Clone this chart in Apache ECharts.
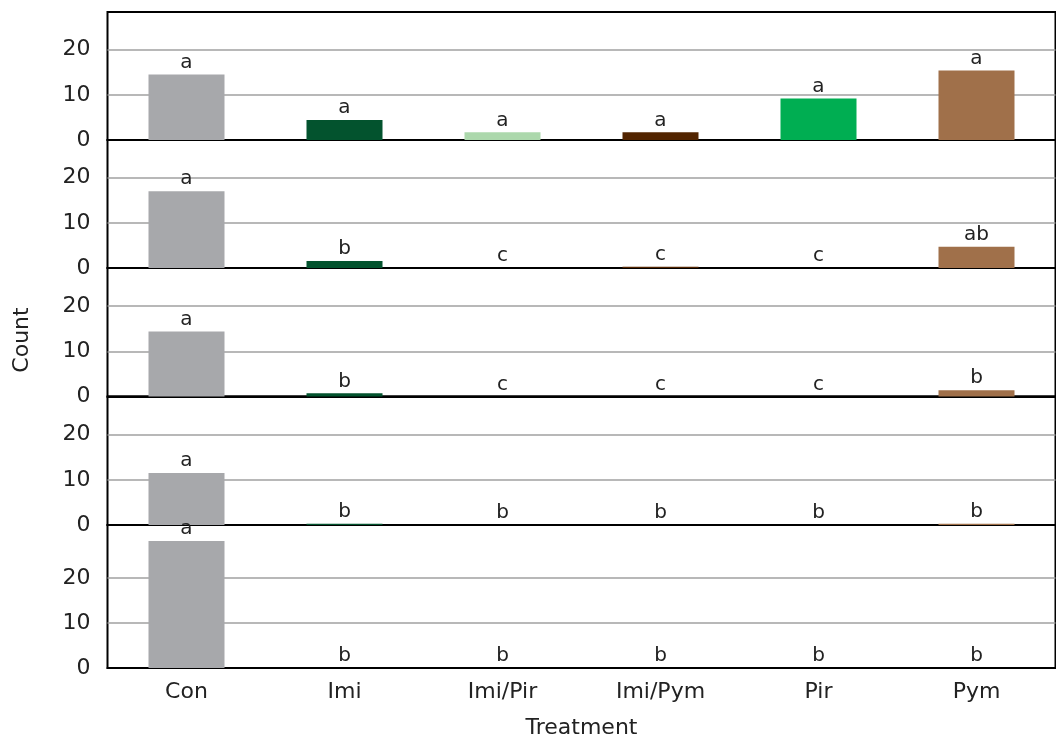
<!DOCTYPE html>
<html>
<head>
<meta charset="utf-8">
<script src="https://cdn.jsdelivr.net/npm/echarts@6/dist/echarts.min.js"></script>
<style>html,body{margin:0;padding:0;background:#fff}#c{width:1056px;height:740px}</style>
</head>
<body>
<div id="c"></div>
<script>
const categories = ['Con', 'Imi', 'Imi/Pir', 'Imi/Pym', 'Pir', 'Pym'];
const barColors = ['#a7a8ab', '#03532e', '#acd8ac', '#522400', '#00ae52', '#a0704a'];

const panel1 = [14.5, 4.4, 1.7, 1.7, 9.2, 15.4];
const panel2 = [17.0, 1.55, 0, 0.3, 0, 4.7];
const panel3 = [14.4, 0.7, 0, 0, 0, 1.4];
const panel4 = [11.5, 0.3, 0, 0, 0, 0.3];
const panel5 = [28.3, 0, 0, 0, 0, 0];

const letters1 = ['a', 'a', 'a', 'a', 'a', 'a'];
const letters2 = ['a', 'b', 'c', 'c', 'c', 'ab'];
const letters3 = ['a', 'b', 'c', 'c', 'c', 'b'];
const letters4 = ['a', 'b', 'b', 'b', 'b', 'b'];
const letters5 = ['a', 'b', 'b', 'b', 'b', 'b'];

const yTicks = [0, 10, 20];
const yAxisTitle = 'Count';
const xAxisTitle = 'Treatment';

const panels = [panel1, panel2, panel3, panel4, panel5];
const letters = [letters1, letters2, letters3, letters4, letters5];

const FONT = 'DejaVu Sans';
const left = 107.5, width = 948;
const tops = [12, 140, 268, 396.5, 525];
const heights = [128, 128, 128.5, 128.5, 144];
const pxPerUnit = 4.52;

const grids = [], xAxes = [], yAxes = [], series = [];
panels.forEach((vals, i) => {
  const last = i === panels.length - 1;
  grids.push({ left: left, top: tops[i], width: width, height: heights[i], show: true, borderColor: '#000', borderWidth: 2, containLabel: false });
  xAxes.push({
    type: 'category', gridIndex: i, data: categories,
    axisLine: { show: true, lineStyle: { color: '#000', width: 2 } },
    axisTick: { show: false },
    axisLabel: { show: last, fontFamily: FONT, fontSize: 22, color: '#222', margin: 13 },
    name: last ? xAxisTitle : '', nameLocation: 'middle', nameGap: 49,
    nameTextStyle: { fontFamily: FONT, fontSize: 22, color: '#222' }
  });
  yAxes.push({
    type: 'value', gridIndex: i, min: 0, max: +(heights[i] / pxPerUnit).toFixed(2), interval: 10,
    axisLine: { show: false },
    axisTick: { show: false, customValues: yTicks },
    axisLabel: {
      customValues: yTicks,
      fontFamily: FONT, fontSize: 22, color: '#222', margin: 17,
      formatter: v => (yTicks.indexOf(v) >= 0 ? String(v) : '')
    },
    splitLine: { show: true, lineStyle: { color: '#a0a0a0', width: 1.5 } }
  });
  series.push({
    type: 'bar', xAxisIndex: i, yAxisIndex: i, barWidth: 76,
    data: vals.map((v, j) => ({ value: v, itemStyle: { color: barColors[j] } })),
    label: {
      show: true, position: 'top', distance: 2,
      fontFamily: FONT, fontSize: 20, color: '#222',
      formatter: p => letters[i][p.dataIndex]
    },
    z: 1
  });
});

const chart = echarts.init(document.getElementById('c'), null, { renderer: 'canvas' });
chart.setOption({
  animation: false,
  backgroundColor: '#fff',
  grid: grids, xAxis: xAxes, yAxis: yAxes, series: series,
  graphic: [{
    type: 'text', x: 22, y: 340, rotation: Math.PI / 2,
    style: { text: yAxisTitle, fontFamily: FONT, fontSize: 22, fill: '#222', align: 'center', verticalAlign: 'middle' }
  }]
});
</script>
</body>
</html>
